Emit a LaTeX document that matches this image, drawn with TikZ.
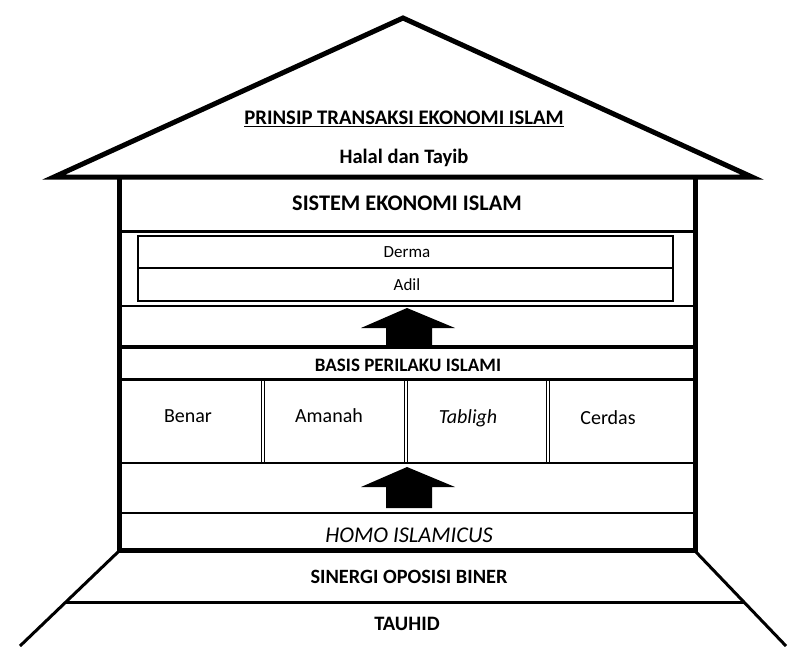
\documentclass[tikz,border=0pt]{standalone}
\usepackage{fontspec}
\setmainfont{Carlito}
\usetikzlibrary{calc}

\begin{document}
\begin{tikzpicture}[x=1pt,y=-1pt,
  lbl/.style={inner sep=0pt,font=\fontsize{#1}{#1}\selectfont},
  blbl/.style={inner sep=0pt,font=\fontsize{#1}{#1}\selectfont\bfseries}]
\useasboundingbox (0,0) rectangle (789,646);
\draw[line width=5pt] (54,177) -- (403,18) -- (752,177) -- cycle;
\draw[line width=5pt] (119,178) -- (119,550) -- (695,550) -- (695,178);
\draw[line width=3pt] (119,231) -- (695,231);
\draw[line width=2pt] (119,306) -- (695,306);
\draw[line width=4pt] (119,347) -- (695,347);
\draw[line width=3pt] (119,379) -- (695,379);
\draw[line width=1.5pt] (119,463) -- (695,463);
\draw[line width=2pt] (119,513) -- (695,513);
\draw[line width=1.2pt] (138,236) rectangle (673,301);
\draw[line width=1.2pt] (138,268) -- (673,268);
\foreach \x in {261,404,546} {
  \draw[line width=1pt] (\x,379) -- (\x,463);
  \draw[line width=1pt] (\x+3,379) -- (\x+3,463);
}
% arrows
\fill (407,308) -- (455,328) -- (432,328) -- (432,347) -- (386,347) -- (386,328) -- (361,328) -- cycle;
\fill (407,467) -- (455,487) -- (432,487) -- (432,508) -- (386,508) -- (386,487) -- (361,487) -- cycle;
% base
\draw[line width=3pt] (118,552) -- (20,646);
\draw[line width=3pt] (696,552) -- (786,646);
\draw[line width=3pt] (66,602) -- (744,602);
\node[blbl=20.7] (prinsip) at (404,119) {\underline{PRINSIP TRANSAKSI EKONOMI ISLAM}};
\node[blbl=20.5] (halal) at (404,158) {Halal dan Tayib};
\node[blbl=22.3] (sistem) at (407,203) {SISTEM EKONOMI ISLAM};
\node[lbl=17] (derma) at (407,252) {Derma};
\node[lbl=17] (adil) at (407,285) {Adil};
\node[blbl=19] (basis) at (408,365) {BASIS PERILAKU ISLAMI};
\node[lbl=20] (benar) at (188,416) {Benar};
\node[lbl=20] (amanah) at (329,416) {Amanah};
\node[lbl=20] (tabligh) at (468,418) {\itshape Tabligh};
\node[lbl=20] (cerdas) at (608,418) {Cerdas};
\node[lbl=22.5] (homo) at (409,535) {\itshape HOMO ISLAMICUS};
\node[blbl=20.3] (sinergi) at (409,577) {SINERGI OPOSISI BINER};
\node[blbl=20.5] (tauhid) at (407,624) {TAUHID};
\end{tikzpicture}
\end{document}
